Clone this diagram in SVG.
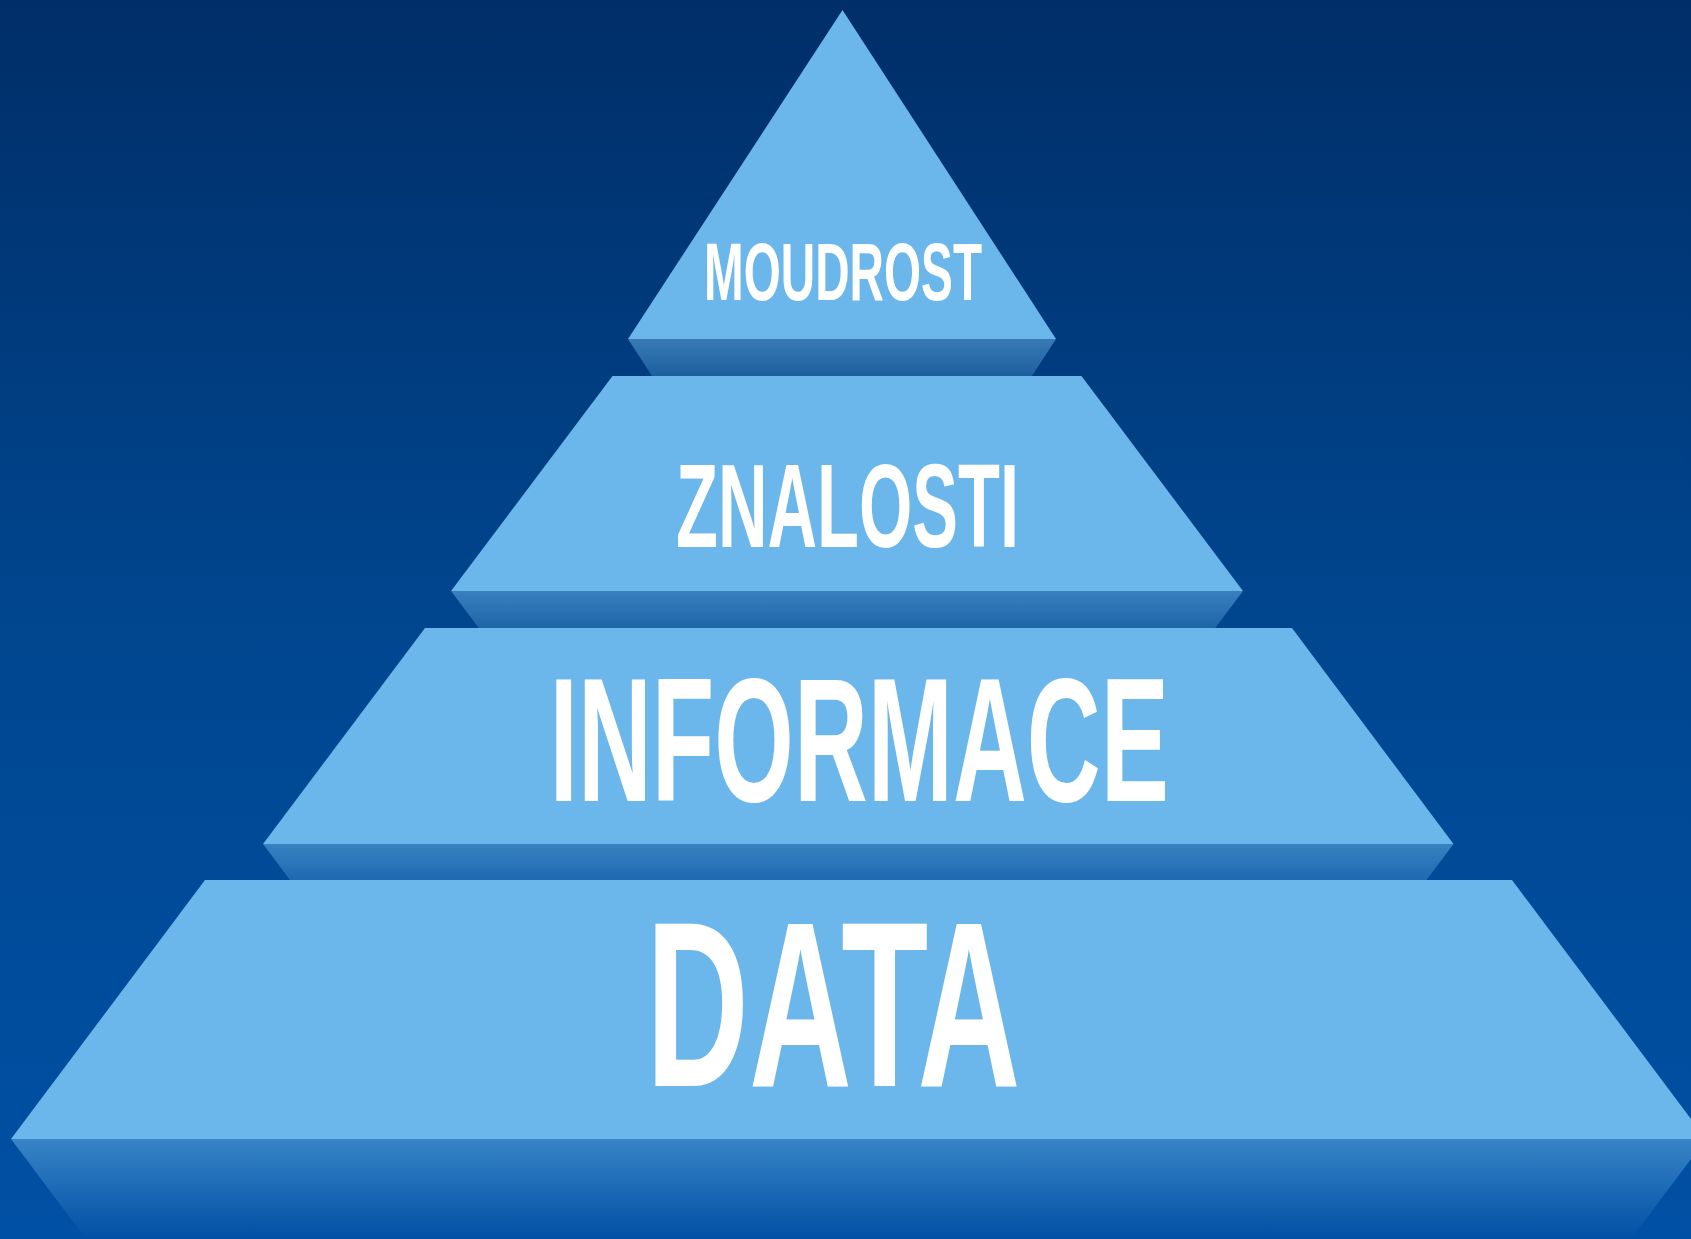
<svg xmlns="http://www.w3.org/2000/svg" width="1691" height="1239" viewBox="0 0 1691 1239">
  <defs>
    <linearGradient id="bg" x1="0" y1="0" x2="0" y2="1">
      <stop offset="0" stop-color="#002e68"/>
      <stop offset="0.5" stop-color="#00468f"/>
      <stop offset="1" stop-color="#0050a5"/>
    </linearGradient>
    <linearGradient id="refl" x1="0" y1="0" x2="0" y2="1">
      <stop offset="0" stop-color="#6bb6ea" stop-opacity="0.52"/>
      <stop offset="1" stop-color="#6bb6ea" stop-opacity="0"/>
    </linearGradient>
  </defs>
  <style>
    .tier { fill: #6bb6ea; }
    .refl { fill: url(#refl); }
    .label { fill: #ffffff; font-family: "Liberation Sans Narrow", "Liberation Sans", "DejaVu Sans Condensed", sans-serif; font-weight: bold; }
  </style>
  <rect x="0" y="0" width="1691" height="1239" fill="url(#bg)"/>

  <g id="moudrost">
    <polygon class="refl" points="628,339 1056,339 1004,419 680,419"/>
    <polygon class="tier" points="842.5,10 1056,339 628,339"/>
    <text class="label" x="704" y="300" font-size="82" textLength="278" lengthAdjust="spacingAndGlyphs">MOUDROST</text>
  </g>

  <g id="znalosti">
    <polygon class="refl" points="451,591 1243,591 1183,671 511,671"/>
    <polygon class="tier" points="612.5,376 1081.5,376 1243,591 451,591"/>
    <text class="label" x="676" y="547" font-size="119" textLength="343" lengthAdjust="spacingAndGlyphs">ZNALOSTI</text>
  </g>

  <g id="informace">
    <polygon class="refl" points="263,844 1453.5,844 1393.5,924 323,924"/>
    <polygon class="tier" points="425,628 1292,628 1453.5,844 263,844"/>
    <text class="label" x="549.5" y="800.5" font-size="176" textLength="619.5" lengthAdjust="spacingAndGlyphs">INFORMACE</text>
  </g>

  <g id="data">
    <polygon class="refl" points="11,1139 1706,1139 1631,1239 86,1239"/>
    <polygon class="tier" points="205,880 1512,880 1706,1139 11,1139"/>
    <text class="label" x="646" y="1085.5" font-size="236" textLength="374.5" lengthAdjust="spacingAndGlyphs">DATA</text>
  </g>
</svg>
